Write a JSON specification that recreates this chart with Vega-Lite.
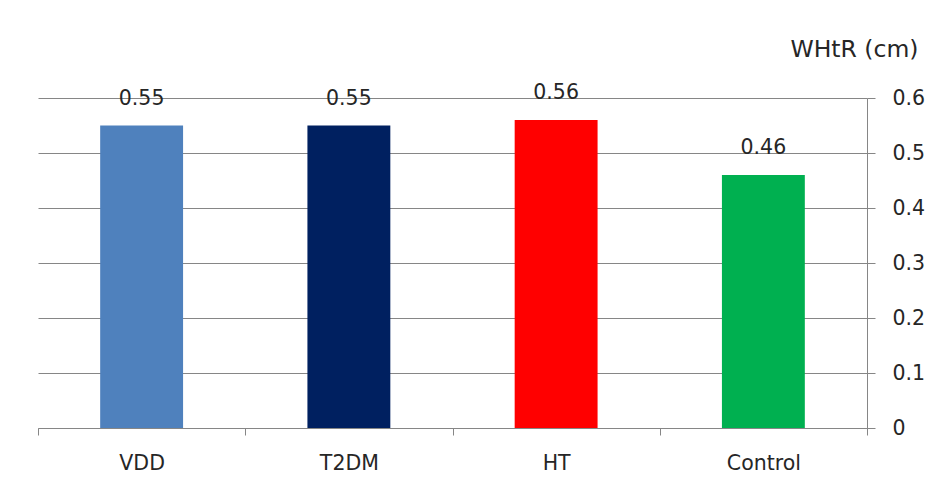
{
  "$schema": "https://vega.github.io/schema/vega-lite/v6.json",
  "width": 829,
  "height": 330,
  "autosize": "none",
  "padding": {"left": 38, "top": 98, "right": 67, "bottom": 62},
  "background": "white",
  "config": {
    "view": {"stroke": null},
    "font": "DejaVu Sans"
  },
  "data": {
    "values": [
      {"group": "VDD", "value": 0.55},
      {"group": "T2DM", "value": 0.55},
      {"group": "HT", "value": 0.56},
      {"group": "Control", "value": 0.46}
    ]
  },
  "encoding": {
    "x": {
      "field": "group",
      "type": "nominal",
      "sort": null,
      "scale": {"paddingInner": 0, "paddingOuter": 0},
      "axis": {
        "title": null,
        "labelAngle": 0,
        "labelFontSize": 20.5,
        "labelColor": "#262626",
        "labelFont": "DejaVu Sans",
        "labelPadding": 18,
        "tickBand": "extent",
        "tickSize": 7,
        "tickColor": "#868686",
        "domainColor": "#868686",
        "grid": false
      }
    },
    "y": {
      "field": "value",
      "type": "quantitative",
      "scale": {"domain": [0, 0.6]},
      "axis": {
        "orient": "right",
        "values": [0, 0.1, 0.2, 0.3, 0.4, 0.5, 0.6],
        "format": ".1~f",
        "title": "WHtR (cm)",
        "titleAngle": 0,
        "titleX": 51,
        "titleY": -49,
        "titleAlign": "right",
        "titleBaseline": "middle",
        "titleFontSize": 23.5,
        "titleFontWeight": "normal",
        "titleColor": "#262626",
        "titleFont": "DejaVu Sans",
        "labelFontSize": 20.5,
        "labelColor": "#262626",
        "labelFont": "DejaVu Sans",
        "labelPadding": 17,
        "tickSize": 8,
        "tickColor": "#868686",
        "domainColor": "#868686",
        "grid": true,
        "gridColor": "#868686"
      }
    }
  },
  "layer": [
    {
      "mark": {"type": "bar", "width": {"band": 0.4}},
      "encoding": {
        "color": {
          "field": "group",
          "type": "nominal",
          "sort": null,
          "scale": {
            "domain": ["VDD", "T2DM", "HT", "Control"],
            "range": ["#4F81BD", "#002060", "#FF0000", "#00B050"]
          },
          "legend": null
        }
      }
    },
    {
      "mark": {"type": "text", "baseline": "middle", "dy": -27, "fontSize": 20.5, "color": "#262626", "font": "DejaVu Sans"},
      "encoding": {
        "text": {"field": "value", "type": "quantitative", "format": ".2f"}
      }
    }
  ]
}
